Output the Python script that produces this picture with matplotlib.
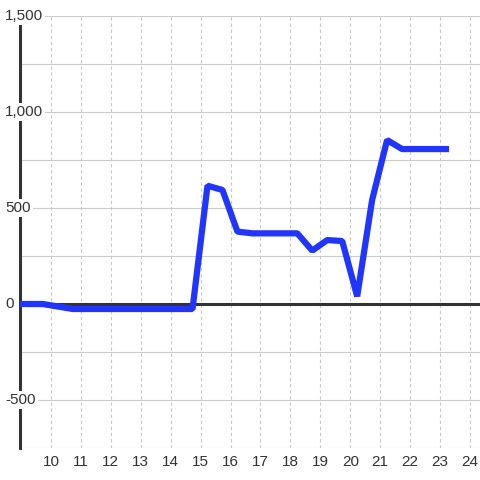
import numpy as np
import matplotlib
matplotlib.use("Agg")
import matplotlib.pyplot as plt

plt.rcParams['font.family'] = ['Liberation Sans', 'DejaVu Sans']

# hour of day and value
hours = [8.73, 9.23, 9.73, 10.23, 10.73, 11.23, 11.73, 12.23, 12.73, 13.23,
         13.73, 14.23, 14.73, 15.23, 15.73, 16.23, 16.73, 17.23, 17.73, 18.23,
         18.73, 19.23, 19.73, 20.23, 20.73, 21.23, 21.73, 22.23, 22.73, 23.3]
values = [0, 0, 0, -13, -26, -26, -26, -26, -26, -26,
          -26, -26, -26, 616, 594, 377, 368, 368, 368, 368,
          278, 333, 328, 40, 542, 854, 807, 807, 807, 807]
xticks = list(range(10, 25))
ylabels = [-500, 0, 500, 1000, 1500]

fig = plt.figure(figsize=(4.8, 4.8), dpi=100)
ax = fig.add_axes([20/480, 32/480, 460/480, 432/480])
ax.set_xlim(8.967, 24.333)
ax.set_ylim(-750, 1500)

# grid
for y in np.arange(-750, 1501, 250):
    ax.axhline(y, color='#cccccc', lw=0.8, zorder=1)
for x in xticks:
    ax.axvline(x, color='#c8c8c8', lw=0.8, ls=(0, (3, 2.5)), zorder=1)
ax.axhline(0, color='#333333', lw=2.2, zorder=3)

ax.plot(hours, values, color='#2036ff', lw=4.5, solid_joinstyle='bevel',
        solid_capstyle='butt', zorder=4, clip_on=True)

for s in ['top', 'right', 'bottom']:
    ax.spines[s].set_visible(False)
ax.spines['left'].set_color('#333333')
ax.spines['left'].set_linewidth(2.2)
ax.spines['left'].set_zorder(3)

ax.set_yticks([])
ax.set_xticks(xticks)
ax.set_xticklabels([str(t) for t in xticks], fontsize=11, color='#333333')
ax.tick_params(axis='x', length=0, pad=5)

for v in ylabels:
    ax.text(-15/460, v, f"{v:,}", transform=ax.get_yaxis_transform(),
            ha='left', va='center', fontsize=11, color='#333333',
            bbox=dict(facecolor='white', edgecolor='none', pad=1.5),
            zorder=6, clip_on=False)

fig.savefig('out.png', dpi=100, facecolor='white')
